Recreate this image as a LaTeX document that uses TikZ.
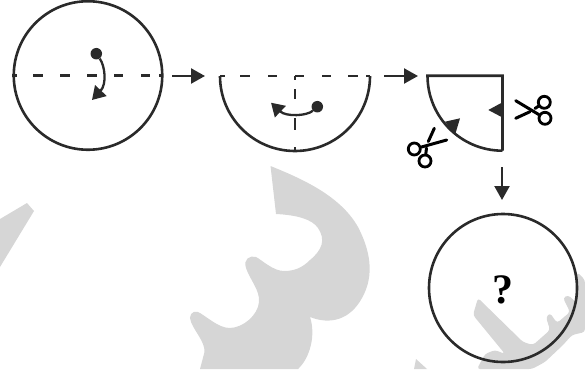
\documentclass[tikz,border=0pt]{standalone}
\usepackage{fontspec}
\setmainfont{Liberation Serif}
\usetikzlibrary{arrows.meta}
\definecolor{ink}{HTML}{2A2A2A}
\definecolor{wm}{HTML}{D6D6D6}
\tikzset{
  line/.style={draw=ink,line width=2.6pt},
  dashline/.style={draw=ink,line width=2.6pt},
  flow/.style={draw=ink,line width=2.3pt,-{Triangle[length=14pt,width=15pt]}},
  turn/.style={draw=ink,line width=2.3pt,-{Triangle[length=13pt,width=15.5pt]}},
  dotnode/.style={fill=ink,circle,inner sep=0pt,minimum size=11.5pt},
  wedge/.style={fill=ink,draw=none},
  wmark/.style={fill=wm,draw=none},
  blade/.style={draw=black,line width=3pt,line cap=round},
  ring/.style={draw=black,line width=2.8pt,circle,minimum size=12pt,inner sep=0pt},
}
\begin{document}
\begin{tikzpicture}[x=1pt,y=-1pt]
\useasboundingbox (0,0) rectangle (585,369);
% watermark
\fill[wmark] (270.5,166) -- (276,214) .. controls (296,215) and (312,219) .. (318,228) .. controls (326,240) and (322,250) .. (310,260) .. controls (302,268) and (294,271) .. (284,271) .. controls (273,271) and (262,260) .. (256,257) .. controls (250,255) and (243,259) .. (246,268) .. controls (250,280) and (260,290) .. (259,302) .. controls (258,315) and (243,328) .. (229.5,328) .. controls (218,328) and (205,315) .. (198,312) .. controls (192,310) and (188,316) .. (191,322) .. controls (195,332) and (205,342) .. (204.5,352) -- (200,369) -- (298,369) .. controls (310,358) and (316,335) .. (310,317) .. controls (330,325) and (350,320) .. (362,298) .. controls (375,275) and (370,250) .. (358,227) .. controls (340,195) and (300,178) .. (270.5,166) -- cycle;
\fill[wmark] (27,203) -- (34,211) -- (0,267) -- (0,219) -- cycle;
\fill[wmark,rounded corners=3pt] (478,298) -- (523,342) -- (533,345) -- (550,330) -- (546,317) -- (550,313) -- (557,323) -- (570,312) -- (563,298) -- (568,295) -- (577,303) -- (577,272) -- (585,280) -- (585,332) -- (572,335) -- (563,345) -- (545,362) -- (532,369) -- (477,369) -- (485,354) -- (495,350) -- (505,354) -- (473,315) -- cycle;
\fill[wmark] (416,359) -- (414,369) -- (427,369) -- cycle;
% first circle
\node[line,circle,minimum size=148.5pt,inner sep=0pt] (circA) at (88,75.5) {};
\draw[dashline,dash pattern=on 5pt off 16pt on 10pt off 17pt on 10pt off 17pt on 10pt off 17pt on 9pt off 18pt on 9pt off 9pt on 4pt off 100pt] (circA.west) -- (circA.east);
\node[dotnode] (dA) at (96.3,53.7) {};
\coordinate (tA) at (92,100);
\draw[turn] (dA) .. controls (105,66) and (107,84) .. (tA);
\coordinate (a1s) at (172,76);
\coordinate (a1e) at (205,76);
\draw[flow] (a1s) -- (a1e);
% half disc
\coordinate (hL) at (220,76);
\coordinate (hC) at (295,76);
\coordinate (hR) at (370,76);
\coordinate (hB) at (295,150);
\draw[line] (hL) arc[start angle=180,end angle=360,radius=75pt];
\draw[dashline,dash pattern=on 5pt off 15pt on 10pt off 18pt on 9pt off 18pt on 9pt off 18pt on 9pt off 17pt on 10pt off 8pt on 4pt off 100pt] (hL) -- (hR);
\draw[dashline,dash pattern=on 4pt off 9pt on 10pt off 19pt on 12pt off 17pt on 3pt off 100pt] (hC) -- (hB);
\node[dotnode] (dB) at (317.3,106.7) {};
\coordinate (tB) at (271,102.7);
\draw[turn] (dB) .. controls (307,116) and (286,117) .. (tB);
\coordinate (a2s) at (384,76);
\coordinate (a2e) at (418,76);
\draw[flow] (a2s) -- (a2e);
% quarter
\coordinate (qL) at (427.5,75.7);
\coordinate (qR) at (502.5,75.7);
\coordinate (qB) at (502.5,150.7);
\draw[line,line join=miter] (qB) -- (qR) -- (qL) arc[start angle=180,end angle=270,radius=75pt];
\fill[wedge] (488.3,110) -- (502.5,102.3) -- (502.5,117.5) -- cycle;
\fill[wedge] (445,121.7) -- (460,118.3) -- (455,135) -- cycle;
% scissors right
\node[ring] (sr1) at (544.3,102.3) {};
\node[ring] (sr2) at (545,118.3) {};
\coordinate (sr3) at (515.7,100.7);
\coordinate (sr4) at (515.7,118.3);
\coordinate (sr5) at (530,111.7);
\coordinate (sr6) at (535,108.5);
\draw[blade] (sr3) -- (sr2);
\draw[blade] (sr4) -- (sr5);
\draw[blade] (sr6) -- (sr1);
% scissors left
\node[ring] (sl1) at (414.3,149) {};
\node[ring] (sl2) at (425,161) {};
\coordinate (sl3) at (446.7,140);
\coordinate (sl4) at (434.3,128.3);
\coordinate (sl5) at (428.3,141.5);
\coordinate (sl6) at (426.5,148);
\draw[blade] (sl3) -- (sl1);
\draw[blade] (sl4) -- (sl5);
\draw[blade] (sl6) -- (sl2);
% down arrow
\coordinate (a3s) at (502,167);
\coordinate (a3e) at (502,200);
\draw[flow] (a3s) -- (a3e);
% final circle
\node[line,circle,minimum size=148pt,inner sep=0pt] (circB) at (503,288) {};
\node[inner sep=0pt,font=\bfseries\fontsize{42}{42}\selectfont] (qmark) at (502.5,289.5) {?};
\end{tikzpicture}
\end{document}
